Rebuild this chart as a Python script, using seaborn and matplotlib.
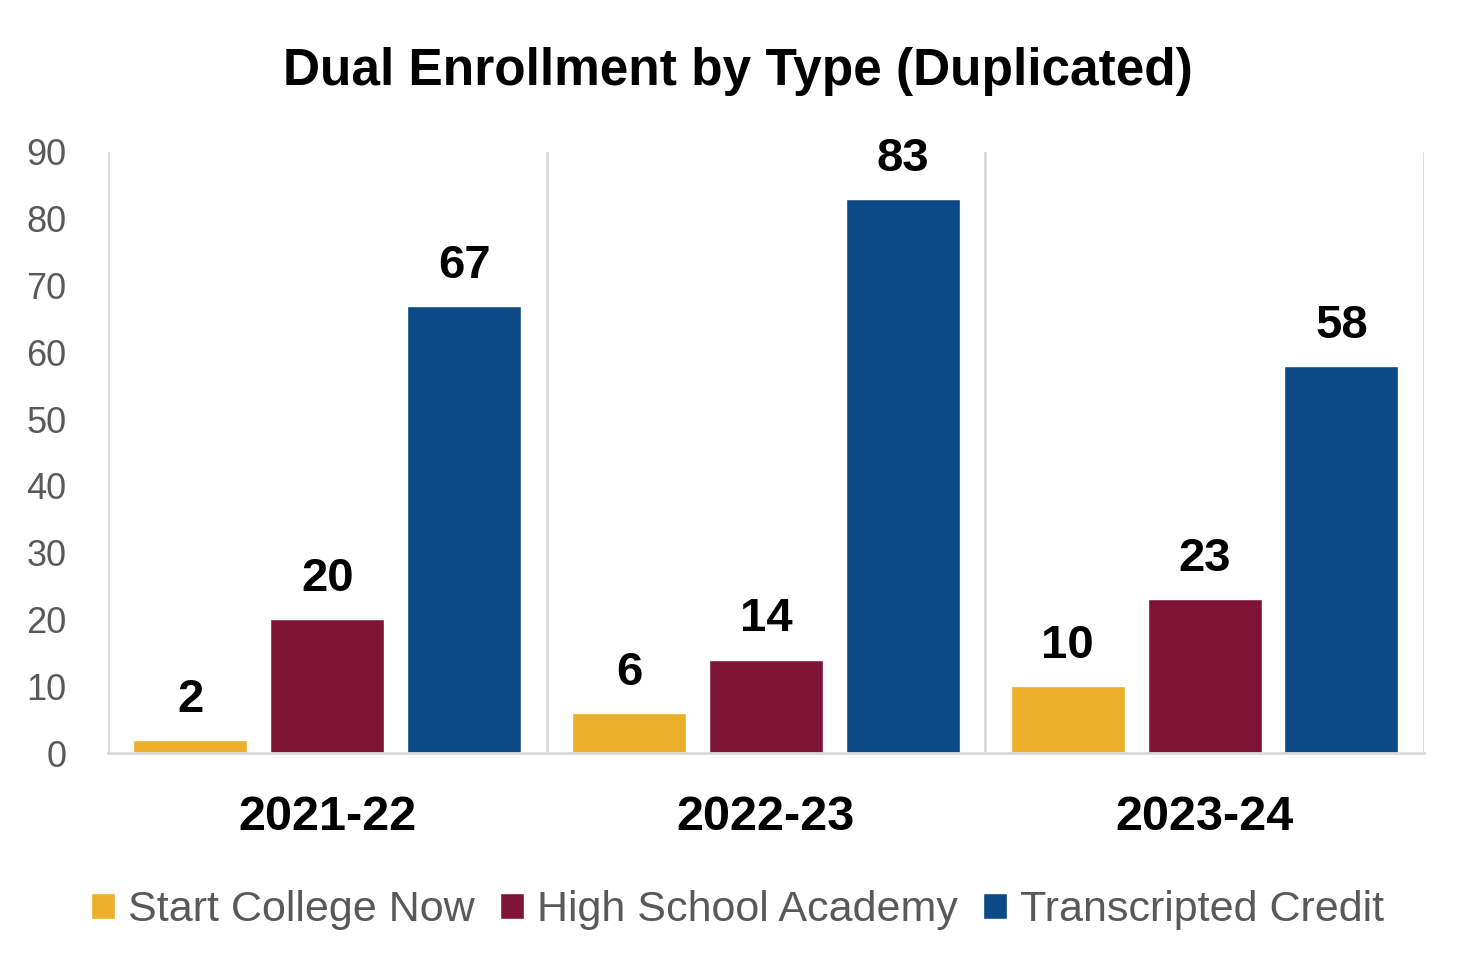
import matplotlib
matplotlib.use("Agg")
import matplotlib.pyplot as plt
import seaborn as sns
import pandas as pd

years = ["2021-22", "2022-23", "2023-24"]
types = ["Start College Now", "High School Academy", "Transcripted Credit"]
start_college_now = [2, 6, 10]
high_school_academy = [20, 14, 23]
transcripted_credit = [67, 83, 58]
colors = ["#EDAE2B", "#7F1437", "#0B4A87"]
yticks = [0, 10, 20, 30, 40, 50, 60, 70, 80, 90]

rows = []
for t, vals in zip(types, [start_college_now, high_school_academy, transcripted_credit]):
    for y, v in zip(years, vals):
        rows.append({"Year": y, "Type": t, "Count": v})
df = pd.DataFrame(rows)

sns.set_theme(style="white")
plt.rcParams["font.family"] = ["Liberation Sans", "DejaVu Sans"]

fig = plt.figure(figsize=(14.75, 9.73), dpi=100)
ax = fig.add_axes([0.0732, 0.2261, 0.8922, 0.6177])

sns.barplot(data=df, x="Year", y="Count", hue="Type", order=years, hue_order=types,
            palette=colors, width=0.936, gap=0.167, saturation=1, ax=ax, legend=True)

for c in ax.containers:
    ax.bar_label(c, padding=13, fontsize=34, fontweight="bold", color="black")

ax.set_xlim(-0.5, 2.5)
ax.set_ylim(0, 90)
ax.set_yticks(yticks)
ax.set_xlabel("")
ax.set_ylabel("")
for x in [-0.5, 0.5, 1.5, 2.5]:
    ax.axvline(x, color="#D9D9D9", lw=2, zorder=0)
for s in ["top", "left", "right"]:
    ax.spines[s].set_visible(False)
ax.spines["bottom"].set_color("#D9D9D9")
ax.spines["bottom"].set_linewidth(2)
ax.tick_params(axis="y", length=0, pad=30, labelsize=26, labelcolor="#595959")
ax.tick_params(axis="x", length=0, pad=30)
for lab in ax.get_xticklabels():
    lab.set_fontsize(35)
    lab.set_fontweight("bold")
    lab.set_color("black")

fig.suptitle("Dual Enrollment by Type (Duplicated)", x=0.5, y=0.952, fontsize=37,
             fontweight="bold", color="black")

handles, labels = ax.get_legend_handles_labels()
ax.get_legend().remove()
leg = fig.legend(handles, labels, loc="lower center", bbox_to_anchor=(0.5, 0.004), ncol=3,
                 frameon=False, fontsize=31, handlelength=0.55, handleheight=0.55,
                 handletextpad=0.3, columnspacing=0.6)
for t in leg.get_texts():
    t.set_color("#595959")

fig.savefig("out.png", dpi=100)
